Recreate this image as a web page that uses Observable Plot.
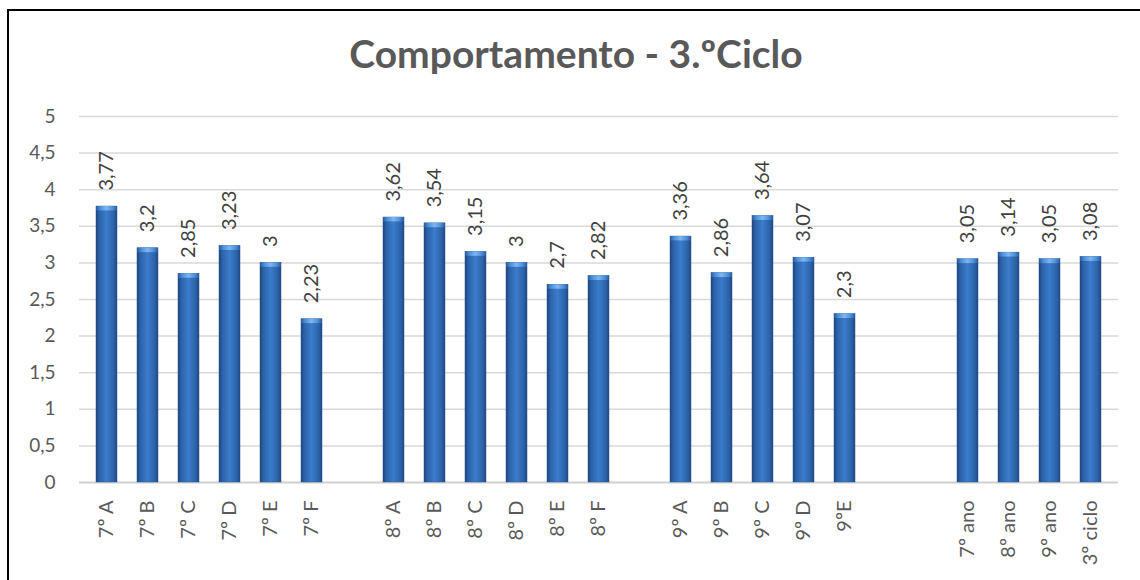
<!DOCTYPE html>
<html>
<head>
<meta charset="utf-8">
<script src="https://cdn.jsdelivr.net/npm/d3@7"></script>
<script src="https://cdn.jsdelivr.net/npm/@observablehq/plot@0.6"></script>
<style>
  html, body { margin: 0; padding: 0; background: #fff; overflow: hidden; }
  #wrap { position: relative; width: 1140px; height: 580px; }
  #border { position: absolute; left: 7px; top: 9px; width: 1160px; height: 620px; border: 2px solid #000; box-sizing: border-box; pointer-events: none; }
  #chart { position: absolute; left: 0; top: 0; }
</style>
</head>
<body>
<div id="wrap"><div id="chart"></div><div id="border"></div></div>
<script>
const title = "Comportamento - 3.ºCiclo";
const categories = ["7º A","7º B","7º C","7º D","7º E","7º F","8º A","8º B","8º C","8º D","8º E","8º F","9º A","9º B","9º C","9º D","9ºE","7º ano","8º ano","9º ano","3º ciclo"];
const values = [3.77,3.2,2.85,3.23,3,2.23,3.62,3.54,3.15,3,2.7,2.82,3.36,2.86,3.64,3.07,2.3,3.05,3.14,3.05,3.08];
const xDomain = ["7º A","7º B","7º C","7º D","7º E","7º F","_g1","8º A","8º B","8º C","8º D","8º E","8º F","_g2","9º A","9º B","9º C","9º D","9ºE","_g3","_g4","7º ano","8º ano","9º ano","3º ciclo"];
const yTicks = [0,0.5,1,1.5,2,2.5,3,3.5,4,4.5,5];

const data = categories.map((c, i) => ({cat: c, value: values[i]}));
const fmt = v => String(v).replace(".", ",");

const svg = Plot.plot({
  width: 1140, height: 580,
  marginLeft: 79, marginRight: 22, marginTop: 116, marginBottom: 98,
  style: {fontFamily: "Lato, sans-serif", color: "#595959", background: "transparent"},
  x: {domain: xDomain, paddingInner: 0.5, paddingOuter: 0.25, label: null},
  y: {domain: [0, 5], label: null},
  marks: [
    Plot.ruleY(yTicks.filter(d => d > 0), {stroke: "#d9d9d9", strokeWidth: 1.5}),
    Plot.ruleY([0], {stroke: "#d0d0d0", strokeWidth: 2}),
    Plot.barY(data, {x: "cat", y: "value", fill: "url(#barGrad)", stroke: "#2a5a98", strokeWidth: 0.5}),
    Plot.barY(data, {x: "cat", y1: d => d.value - 0.06, y2: "value", fill: "url(#topGrad)"}),
    Plot.text(data, {x: "cat", y: "value", text: d => fmt(d.value), rotate: -90, textAnchor: "start", dy: -16, fontSize: 20, fill: "#404040"}),
    Plot.axisY({ticks: yTicks, tickSize: 0, tickPadding: 24, tickFormat: fmt, fontSize: 19, label: null}),
    Plot.axisX({ticks: categories, tickSize: 0, tickRotate: -90, tickPadding: 18, fontSize: 20, label: null})
  ]
});

const s = d3.select(svg);
const defs = s.insert("defs", ":first-child");
const g = defs.append("linearGradient").attr("id", "barGrad").attr("x1", "0").attr("x2", "1").attr("y1", "0").attr("y2", "0");
[[0, "#1c4478"], [0.15, "#2c62a8"], [0.5, "#3b7ccb"], [0.85, "#2c62a8"], [1, "#1d477e"]].forEach(([o, c]) =>
  g.append("stop").attr("offset", o).attr("stop-color", c));
const t = defs.append("linearGradient").attr("id", "topGrad").attr("x1", "0").attr("x2", "1").attr("y1", "0").attr("y2", "0");
[[0, "#2a5a98", 1], [0.2, "#4a8fdc", 1], [0.5, "#7fb6ee", 1], [0.8, "#4a8fdc", 1], [1, "#2a5a98", 1]].forEach(([o, c, op]) =>
  t.append("stop").attr("offset", o).attr("stop-color", c).attr("stop-opacity", op));
s.append("text").attr("x", 576).attr("y", 68).attr("text-anchor", "middle")
  .attr("font-family", "Lato, sans-serif").attr("font-weight", "bold").attr("font-size", 39)
  .attr("fill", "#595959").text(title);
document.getElementById("chart").appendChild(svg);
</script>
</body>
</html>
